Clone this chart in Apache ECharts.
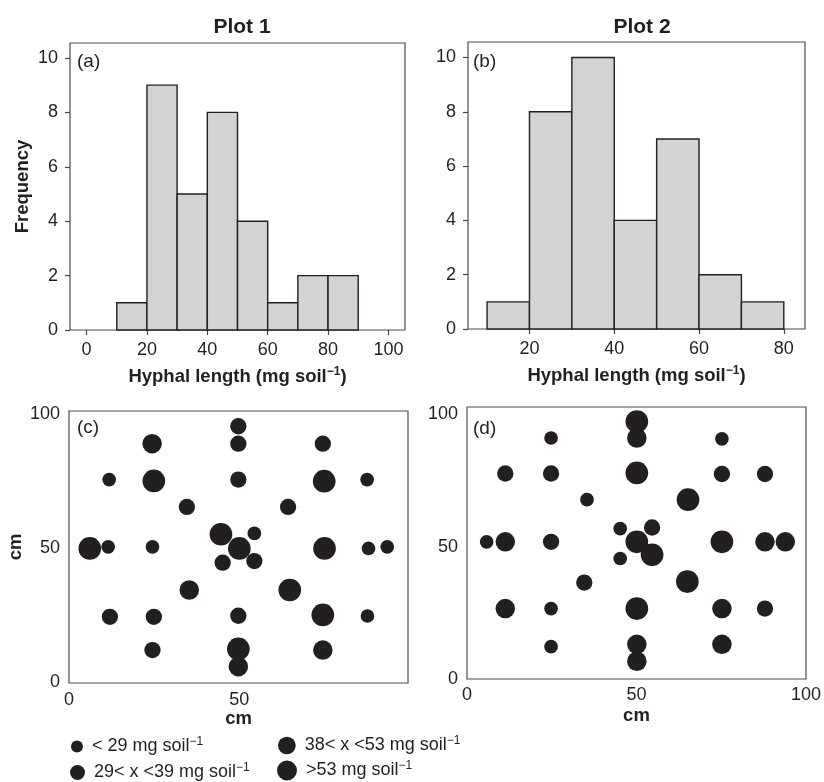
<!DOCTYPE html>
<html>
<head>
<meta charset="utf-8">
<script src="https://cdn.jsdelivr.net/npm/echarts@6/dist/echarts.min.js"></script>
<style>
  html, body { margin: 0; padding: 0; background: #fff; }
  #chart { width: 824px; height: 782px; }
</style>
</head>
<body>
<div id="chart"></div>
<script>
// histogram bins (mg soil^-1) and frequencies
const binEdges1 = [10, 20, 30, 40, 50, 60, 70, 80, 90]
const counts1 = [1, 9, 5, 8, 4, 1, 2, 2]
const binEdges2 = [10, 20, 30, 40, 50, 60, 70, 80]
const counts2 = [1, 8, 10, 4, 7, 2, 1]

const freqTicks = [0, 2, 4, 6, 8, 10]
const lengthTicks1 = [0, 20, 40, 60, 80, 100]
const lengthTicks2 = [20, 40, 60, 80]
const cmTicksC = [0, 50]
const cmTicks = [0, 50, 100]

// legend classes of hyphal length
const classNames = ['< 29 mg soil', '29< x <39 mg soil', '38< x <53 mg soil', '>53 mg soil']

// sampling positions (cm) and hyphal length class, plot 1
const xPlot1 = [49.7, 24.4, 49.7, 74.5, 11.8, 24.9, 49.7, 74.9, 87.5, 34.6, 64.3, 44.6, 54.4, 6.1, 11.5, 24.5, 50, 75, 87.9, 93.4, 45.1, 54.4, 35.3, 64.8, 12, 24.9, 49.7, 74.5, 87.6, 24.5, 49.7, 74.5, 49.7]
const yPlot1 = [95.3, 88.8, 88.8, 88.8, 75.4, 74.9, 75.4, 74.8, 75.4, 65.2, 65.2, 55, 55.3, 49.7, 50.3, 50.3, 49.7, 49.7, 49.7, 50.3, 44.4, 45, 34.2, 34.2, 24.2, 24.2, 24.6, 24.9, 24.5, 11.8, 12.2, 11.8, 5.6]
const classPlot1 = [1, 2, 1, 1, 0, 3, 1, 3, 0, 1, 1, 3, 0, 3, 0, 0, 3, 3, 0, 0, 1, 1, 2, 3, 1, 1, 1, 3, 0, 1, 3, 2, 2]

// plot 2
const xPlot2 = [50.1, 50.1, 24.8, 75.2, 11.3, 24.8, 50.1, 75.2, 87.9, 35.4, 65.2, 45.2, 54.6, 5.8, 11.3, 24.8, 50.1, 75.2, 87.9, 93.9, 54.6, 45.2, 34.6, 65, 11.3, 24.8, 50.1, 75.2, 87.9, 24.8, 50.1, 75.2, 50.1]
const yPlot2 = [97.2, 91, 91, 90.7, 77.6, 77.6, 77.8, 77.4, 77.4, 67.7, 67.7, 56.8, 57.2, 51.8, 51.8, 51.8, 51.8, 51.8, 51.8, 51.8, 46.9, 45.5, 36.4, 36.8, 26.6, 26.6, 26.6, 26.6, 26.6, 12.2, 13.1, 13.1, 6.7]
const classPlot2 = [3, 2, 0, 0, 1, 1, 3, 1, 1, 0, 3, 0, 1, 0, 2, 1, 3, 3, 2, 2, 3, 0, 1, 3, 2, 0, 3, 2, 1, 0, 2, 2, 2]

const INK = '#231f20'
const FONT = '"Liberation Sans", Arial, sans-serif'
const dotSizes = [13.7, 16.3, 19.5, 22.7]
const legendSizes = [12, 15, 17.7, 20]

const supRich = {
  t: { fontFamily: FONT, fontSize: 18.5, fontWeight: 'bold', color: INK },
  s: { fontFamily: FONT, fontSize: 12, fontWeight: 'bold', color: INK, padding: [0, 0, 9, 0] }
}

function histData(edges, counts) {
  return counts.map((c, i) => [edges[i], edges[i + 1], c])
}

function labelStyle(ticks, margin) {
  return { customValues: ticks, fontFamily: FONT, fontSize: 18, color: INK, margin: margin }
}

function valueAxis(gridIndex, min, max, ticks, opts) {
  return Object.assign({
    type: 'value',
    gridIndex: gridIndex,
    min: min,
    max: max,
    splitLine: { show: false },
    axisLine: { show: false, onZero: false },
    axisTick: { show: false },
    axisLabel: labelStyle(ticks, 9)
  }, opts)
}

function tickOn(ticks) {
  return { show: true, length: 5, customValues: ticks, lineStyle: { color: '#444', width: 1.2 } }
}

const chart = echarts.init(document.getElementById('chart'))

const scatterSeries = []
;[[xPlot1, yPlot1, classPlot1, 2], [xPlot2, yPlot2, classPlot2, 3]].forEach(([xs, ys, cls, idx]) => {
  classNames.forEach((name, k) => {
    scatterSeries.push({
      type: 'scatter',
      name: name,
      xAxisIndex: idx,
      yAxisIndex: idx,
      symbolSize: dotSizes[k],
      itemStyle: { color: INK, opacity: 1 },
      data: xs.map((x, i) => [x, ys[i], cls[i]]).filter(d => d[2] === k)
    })
  })
})

function histSeries(idx, data) {
  return {
    type: 'custom',
    xAxisIndex: idx,
    yAxisIndex: idx,
    encode: { x: [0, 1], y: 2 },
    data: data,
    renderItem(params, api) {
      const p0 = api.coord([api.value(0), api.value(2)])
      const p1 = api.coord([api.value(1), 0])
      return {
        type: 'rect',
        shape: { x: p0[0], y: p0[1], width: p1[0] - p0[0], height: p1[1] - p0[1] },
        style: { fill: '#d1d3d4', stroke: INK, lineWidth: 1.4 }
      }
    }
  }
}

const legendPos = [
  { left: 71, top: 736 },
  { left: 70, top: 762 },
  { left: 278, top: 735 },
  { left: 277, top: 760 }
]

const legends = classNames.map((name, k) => ({
  data: [{ name: name, icon: 'circle' }],
  left: legendPos[k].left,
  top: legendPos[k].top,
  padding: 0,
  itemWidth: legendSizes[k],
  itemHeight: legendSizes[k],
  selectedMode: false,
  formatter: n => '{t|' + n + '}{s|−1}',
  textStyle: {
    rich: {
      t: { fontFamily: FONT, fontSize: 18, color: INK, padding: [0, 0, 0, 4] },
      s: { fontFamily: FONT, fontSize: 12, color: INK, padding: [0, 0, 9, 0] }
    }
  }
}))

const panelLabel = (text, left, top) => ({
  type: 'text', left: left, top: top,
  style: { text: text, fontFamily: FONT, fontSize: 19, fill: INK }
})

const boldName = { fontFamily: FONT, fontSize: 18.5, fontWeight: 'bold', color: INK }

chart.setOption({
  animation: false,
  title: [
    { text: 'Plot 1', left: 237, top: 12, textAlign: 'center',
      textStyle: { fontFamily: FONT, fontSize: 21, fontWeight: 'bold', color: INK } },
    { text: 'Plot 2', left: 637, top: 12, textAlign: 'center',
      textStyle: { fontFamily: FONT, fontSize: 21, fontWeight: 'bold', color: INK } }
  ],
  legend: legends,
  grid: [
    { left: 70, top: 43, width: 335, height: 287 },
    { left: 468, top: 42, width: 337, height: 287 },
    { left: 69, top: 411, width: 339, height: 272 },
    { left: 467, top: 407, width: 341, height: 272 }
  ].map(g => Object.assign({ show: true, borderColor: '#4d4d4f', borderWidth: 1.2, backgroundColor: 'transparent' }, g)),
  xAxis: [
    valueAxis(0, -5.5, 105.5, lengthTicks1, {
      axisTick: tickOn(lengthTicks1),
      axisLabel: labelStyle(lengthTicks1, 11),
      name: '{t|Hyphal length (mg soil}{s|−1}{t|)}',
      nameLocation: 'middle',
      nameGap: 36,
      nameTextStyle: { rich: supRich }
    }),
    valueAxis(1, 5.5, 85, lengthTicks2, {
      axisTick: tickOn(lengthTicks2),
      axisLabel: labelStyle(lengthTicks2, 11),
      name: '{t|Hyphal length (mg soil}{s|−1}{t|)}',
      nameLocation: 'middle',
      nameGap: 36,
      nameTextStyle: { rich: supRich }
    }),
    valueAxis(2, 0, 99.5, cmTicksC, {
      axisLabel: labelStyle(cmTicksC, 8),
      name: 'cm', nameLocation: 'middle', nameGap: 26,
      nameTextStyle: boldName
    }),
    valueAxis(3, 0, 100, cmTicks, {
      axisLabel: labelStyle(cmTicks, 7),
      name: 'cm', nameLocation: 'middle', nameGap: 27,
      nameTextStyle: boldName
    })
  ],
  yAxis: [
    valueAxis(0, 0, 10.55, freqTicks, {
      axisTick: tickOn(freqTicks),
      axisLabel: labelStyle(freqTicks, 12),
      name: 'Frequency', nameLocation: 'middle', nameGap: 38,
      nameTextStyle: boldName
    }),
    valueAxis(1, 0, 10.57, freqTicks, {
      axisTick: tickOn(freqTicks),
      axisLabel: labelStyle(freqTicks, 12)
    }),
    valueAxis(2, -0.5, 101, cmTicks, {
      name: 'cm', nameLocation: 'middle', nameGap: 44,
      nameTextStyle: boldName
    }),
    valueAxis(3, 0, 102.7, cmTicks)
  ],
  graphic: [
    panelLabel('(a)', 77, 52),
    panelLabel('(b)', 473, 52),
    panelLabel('(c)', 77, 418),
    panelLabel('(d)', 473, 419)
  ],
  series: [
    histSeries(0, histData(binEdges1, counts1)),
    histSeries(1, histData(binEdges2, counts2))
  ].concat(scatterSeries)
})
</script>
</body>
</html>
